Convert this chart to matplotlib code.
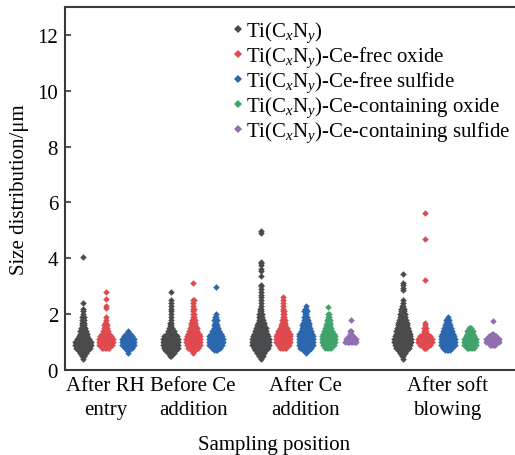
import matplotlib
matplotlib.use("Agg")
import matplotlib.pyplot as plt
from matplotlib.lines import Line2D

plt.rcParams['font.family'] = 'serif'
plt.rcParams['font.serif'] = ['Liberation Serif', 'DejaVu Serif']
plt.rcParams['mathtext.fontset'] = 'custom'
plt.rcParams['mathtext.rm'] = 'Liberation Serif'
plt.rcParams['mathtext.it'] = 'Liberation Serif:italic'
SERIF = ['Liberation Serif', 'DejaVu Serif']

# ---------------- data ----------------
positions = ["After RH\nentry", "Before Ce\naddition", "After Ce\naddition", "After soft\nblowing"]
group_centers = [1.8, 5.7, 10.7, 17.0]

series_names = [r"Ti(C$_x$N$_y$)",
                r"Ti(C$_x$N$_y$)-Ce-frec oxide",
                r"Ti(C$_x$N$_y$)-Ce-free sulfide",
                r"Ti(C$_x$N$_y$)-Ce-containing oxide",
                r"Ti(C$_x$N$_y$)-Ce-containing sulfide"]
series_colors = ["#4a4b4d", "#df4a4f", "#2b67ae", "#41a36c", "#8f6fb0"]

size_bins = [0.4, 0.5, 0.6, 0.7, 0.8, 0.9, 1.0, 1.1, 1.2, 1.3, 1.4, 1.5, 1.6,
             1.7, 1.8, 1.9, 2.0, 2.1, 2.2, 2.3, 2.4, 2.5, 2.6, 2.7, 2.8]

# particle counts per size bin, one list per sampling position (None = absent)
tin_counts = [
    [1, 3, 5, 8, 11, 12, 12, 10, 7, 6, 5, 4, 3, 3, 2, 2, 1, 1, 0, 0, 0, 0, 0, 0, 0],
    [0, 2, 5, 9, 11, 12, 12, 12, 10, 7, 5, 3, 2, 2, 1, 1, 1, 1, 1, 1, 1, 0, 0, 0, 0],
    [1, 4, 6, 9, 11, 13, 13, 13, 12, 10, 9, 8, 6, 5, 4, 3, 3, 2, 2, 1, 1, 1, 1, 1, 1],
    [1, 2, 5, 8, 10, 12, 13, 13, 12, 11, 10, 9, 8, 7, 6, 5, 4, 3, 3, 2, 1, 1, 0, 0, 0],
]
tin_outliers = [[2.2, 2.4, 4.06], [2.5, 2.78],
                [2.9, 3.0, 3.05, 3.37, 3.55, 3.62, 3.75, 3.82, 3.88, 4.92, 4.98],
                [2.85, 2.95, 3.05, 3.12, 3.43]]

free_oxide_counts = [
    [0, 0, 0, 0, 6, 10, 11, 11, 9, 6, 4, 3, 3, 2, 1, 1, 0, 0, 0, 0, 0, 0, 0, 0, 0],
    [0, 0, 1, 4, 8, 10, 11, 11, 10, 9, 7, 6, 4, 4, 3, 2, 2, 1, 2, 1, 1, 2, 0, 0, 0],
    [0, 0, 0, 0, 5, 9, 11, 11, 11, 10, 8, 6, 4, 3, 3, 2, 2, 2, 1, 1, 1, 1, 1, 0, 0],
    [0, 0, 0, 0, 3, 8, 11, 11, 8, 4, 3, 3, 1, 1, 0, 0, 0, 0, 0, 0, 0, 0, 0, 0, 0],
]
free_oxide_outliers = [[2.22, 2.28, 2.53, 2.78], [3.12], [], [3.23, 4.68, 5.62]]

free_sulfide_counts = [
    [0, 0, 1, 3, 6, 9, 10, 10, 7, 4, 1, 0, 0, 0, 0, 0, 0, 0, 0, 0, 0, 0, 0, 0, 0],
    [0, 0, 0, 3, 7, 10, 11, 11, 10, 8, 6, 4, 3, 2, 3, 2, 1, 0, 0, 0, 0, 0, 0, 0, 0],
    [0, 0, 1, 5, 9, 11, 11, 11, 11, 10, 8, 7, 6, 5, 4, 3, 2, 3, 2, 1, 0, 0, 0, 0, 0],
    [0, 0, 0, 4, 8, 11, 11, 11, 10, 9, 8, 6, 5, 3, 3, 1, 0, 0, 0, 0, 0, 0, 0, 0, 0],
]
free_sulfide_outliers = [[], [2.98], [], []]

ce_oxide_counts = [
    None, None,
    [0, 0, 0, 0, 5, 9, 10, 10, 10, 9, 7, 5, 4, 3, 3, 2, 2, 0, 0, 0, 0, 0, 0, 0, 0],
    [0, 0, 0, 0, 6, 9, 10, 9, 7, 5, 5, 3, 0, 0, 0, 0, 0, 0, 0, 0, 0, 0, 0, 0, 0],
]
ce_oxide_outliers = [[], [], [2.25], []]

ce_sulfide_counts = [
    None, None,
    [0, 0, 0, 0, 0, 0, 9, 8, 4, 2, 2, 0, 0, 0, 0, 0, 0, 0, 0, 0, 0, 0, 0, 0, 0],
    [0, 0, 0, 0, 0, 5, 10, 10, 6, 2, 0, 0, 0, 0, 0, 0, 0, 0, 0, 0, 0, 0, 0, 0, 0],
]
ce_sulfide_outliers = [[], [], [1.8], [1.76]]

all_counts = [tin_counts, free_oxide_counts, free_sulfide_counts, ce_oxide_counts, ce_sulfide_counts]
all_outliers = [tin_outliers, free_oxide_outliers, free_sulfide_outliers, ce_oxide_outliers, ce_sulfide_outliers]

# ---------------- figure ----------------
W, H = 515, 456
fig = plt.figure(figsize=(W / 100, H / 100), dpi=100)
ax_left, ax_right, ax_bottom, ax_top = 65, 517, 371, 8
ax = fig.add_axes([ax_left / W, 1 - ax_bottom / H, (ax_right - ax_left) / W, (ax_bottom - ax_top) / H])
px_per_unit = 22.5
ax.set_xlim(0, (ax_right - ax_left) / px_per_unit)
ax.set_ylim(0, 13)

slot = 1.0
dx = 1.4 / px_per_unit

for gi, center in enumerate(group_centers):
    present = [si for si in range(5) if all_counts[si][gi] is not None]
    n = len(present)
    for k, si in enumerate(present):
        xc = center + (k - (n - 1) / 2) * slot
        xs, ys = [], []
        for v, c in zip(size_bins, all_counts[si][gi]):
            for j in range(c):
                xs.append(xc + (j - (c - 1) / 2) * dx)
                ys.append(v)
        for v in all_outliers[si][gi]:
            xs.append(xc)
            ys.append(v)
        ax.scatter(xs, ys, s=11, marker='D', color=series_colors[si], linewidths=0, zorder=3)

ax.set_xticks(group_centers)
ax.set_xticklabels(positions, fontsize=15, linespacing=1.4, family=SERIF)
ax.tick_params(axis='x', length=0, pad=4)
ax.set_yticks(range(0, 13, 2))
ax.set_yticklabels([str(v) for v in range(0, 13, 2)], family=SERIF)
ax.tick_params(axis='y', direction='in', length=4, width=1.2, labelsize=15, pad=5, color='#3a3a3a')
for sp in ax.spines.values():
    sp.set_linewidth(1.5)
    sp.set_color('#3a3a3a')

ax.set_ylabel("Size distribution/μm", fontsize=15, labelpad=6, family=SERIF)
ax.set_xlabel("Sampling position", fontsize=15, family=SERIF)
ax.xaxis.set_label_coords((274 - ax_left) / (ax_right - ax_left), -0.179)

handles = [Line2D([], [], marker='D', linestyle='none', markersize=4.4,
                  markerfacecolor=c, markeredgewidth=0) for c in series_colors]
leg = ax.legend(handles, series_names, loc='upper left', frameon=False,
                prop={'family': SERIF, 'size': 15},
                bbox_to_anchor=((233 - ax_left) / (ax_right - ax_left), 1 - 13 / (ax_bottom - ax_top)),
                borderaxespad=0, handlelength=0.45, handletextpad=0.15, labelspacing=0.02,
                borderpad=0)

fig.savefig("out.png", dpi=100)
